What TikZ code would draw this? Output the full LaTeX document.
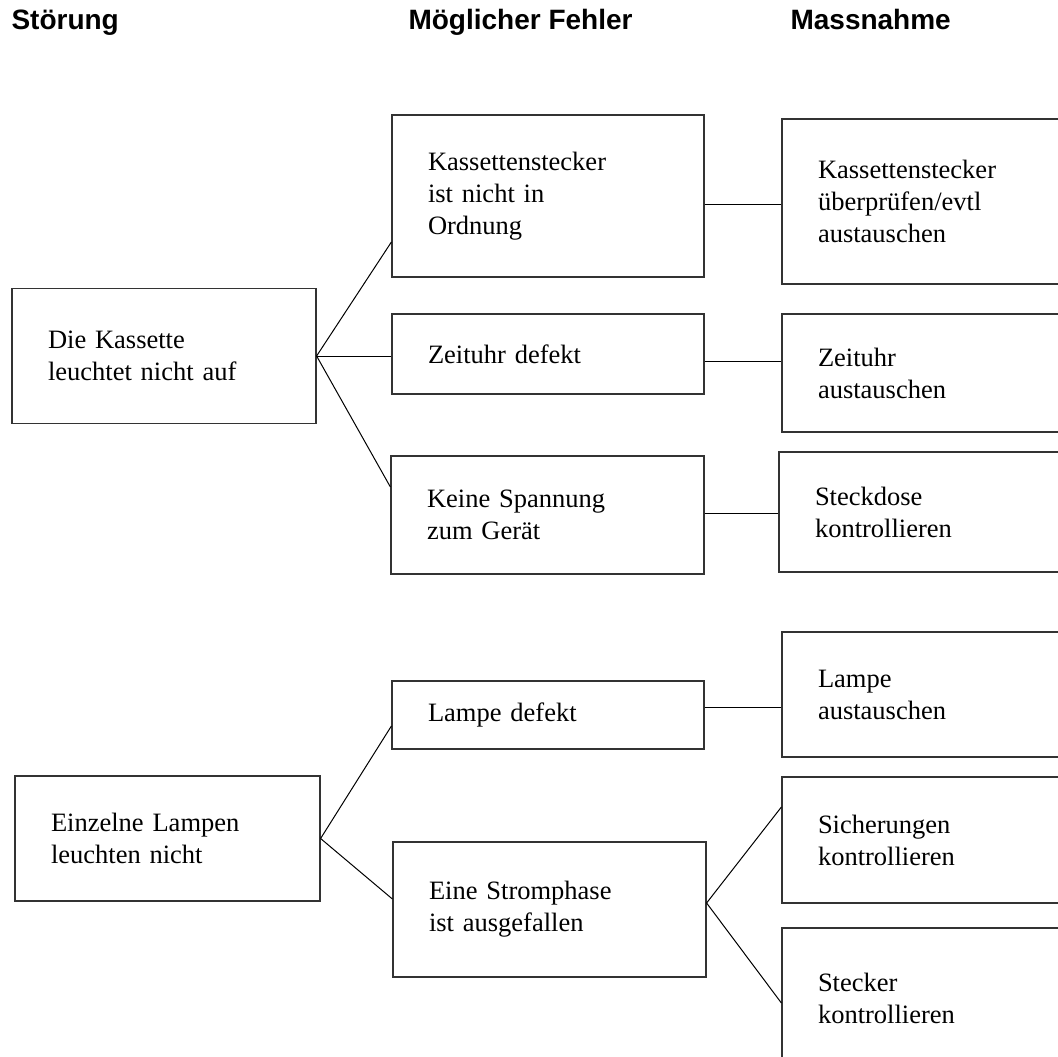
\documentclass[tikz,border=0pt]{standalone}
\usepackage{fontspec}
\setmainfont{Liberation Serif}
\newfontfamily\headfont{Liberation Sans}
\begin{document}
\begin{tikzpicture}[x=1pt,y=-1pt,
    box/.style={draw=black!80,line width=1.2pt,rectangle,align=left,inner xsep=36pt,
      font=\fontsize{26.5}{32}\selectfont},
    head/.style={anchor=base west,font=\headfont\bfseries\fontsize{28}{32}\selectfont},
    link/.style={line width=1pt}]
    \clip (0,0) rectangle (1058,1057);

    % Headings
    \node[head] (stoerung) at (8,30) {Störung};
    \node[head] (fehler) at (405,30) {Möglicher Fehler};
    \node[head] (massnahme) at (787,30) {Massnahme};

    % Stoerung
    \node[box,text width=232pt,minimum height=135pt] (kassette) at (164,356) {Die Kassette\\leuchtet nicht auf};
    \node[box,text width=233pt,minimum height=125pt] (lampen) at (167.5,838.5) {Einzelne Lampen\\leuchten nicht};

    % Moeglicher Fehler
    \node[box,text width=240pt,minimum height=162pt] (stecker) at (548,196) {Kassettenstecker\\ist nicht in\\Ordnung};
    \node[box,text width=240pt,minimum height=80pt] (zeituhr) at (548,354) {Zeituhr defekt};
    \node[box,text width=241pt,minimum height=118pt] (spannung) at (547.5,515) {Keine Spannung\\zum Gerät};
    \node[box,text width=240pt,minimum height=68pt] (lampe) at (548,715) {Lampe defekt};
    \node[box,text width=241pt,minimum height=135pt] (phase) at (549.5,909.5) {Eine Stromphase\\ist ausgefallen};

    % Massnahme
    \node[box,text width=228pt,minimum height=165pt] (steckerM) at (932,201.5) {Kassettenstecker\\überprüfen/evtl\\austauschen};
    \node[box,text width=228pt,minimum height=118pt] (zeituhrM) at (932,373) {Zeituhr\\austauschen};
    \node[box,text width=228pt,minimum height=120pt] (dose) at (929,512) {Steckdose\\kontrollieren};
    \node[box,text width=228pt,minimum height=125pt] (lampeM) at (932,694.5) {Lampe\\austauschen};
    \node[box,text width=228pt,minimum height=126pt] (sicherung) at (932,840) {Sicherungen\\kontrollieren};
    \node[box,text width=228pt,minimum height=140pt] (steckerK) at (932,998) {Stecker\\kontrollieren};

    % Connectors
    \draw[link] (kassette.east) -- ([yshift=-46pt]stecker.west);
    \draw[link] (kassette.east) -- (zeituhr.west |- kassette.east);
    \draw[link] (kassette.east) -- ([yshift=28pt]spannung.west);
    \draw[link] ([yshift=-8pt]stecker.east) -- ([yshift=-2.5pt]steckerM.west);
    \draw[link] ([yshift=-7pt]zeituhr.east) -- ([yshift=12pt]zeituhrM.west);
    \draw[link] ([yshift=2pt]spannung.east) -- ([yshift=-1pt]dose.west);
    \draw[link] (lampen.east) -- ([yshift=-11pt]lampe.west);
    \draw[link] (lampen.east) -- ([yshift=10.5pt]phase.west);
    \draw[link] ([yshift=8pt]lampe.east) -- ([yshift=-12.5pt]lampeM.west);
    \draw[link] ([yshift=6.5pt]phase.east) -- ([yshift=33pt]sicherung.west);
    \draw[link] ([yshift=6.5pt]phase.east) -- ([yshift=-5pt]steckerK.west);
\end{tikzpicture}
\end{document}
